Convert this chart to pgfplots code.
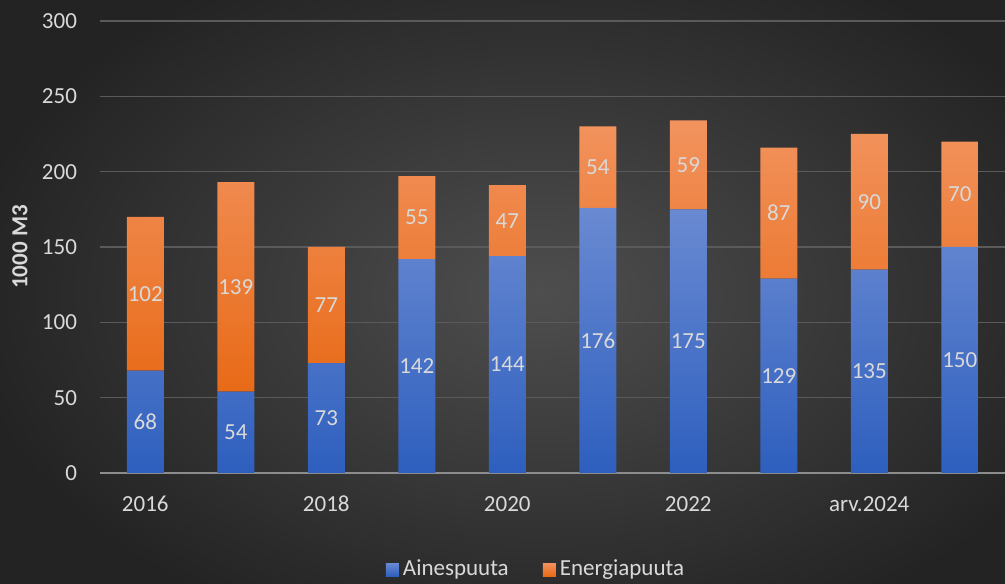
\documentclass[border=0pt]{standalone}
\usepackage{fontspec}
\setmainfont{Carlito}
\usepackage{pgfplots}
\usepackage{pgfplotstable}
\pgfplotsset{compat=1.18}
\definecolor{bgin}{HTML}{4E4E4E}
\definecolor{bgout}{HTML}{232323}
\definecolor{txt}{HTML}{D9D9D9}
\definecolor{btop}{HTML}{6A8AD2}
\definecolor{bbot}{HTML}{2E5FBE}
\definecolor{otop}{HTML}{F2935E}
\definecolor{obot}{HTML}{E86A17}
\definecolor{gridc}{HTML}{5A5A5A}
\definecolor{axl}{HTML}{8C8C8C}

\pgfplotstableread{
x a e
0 68 102
1 54 139
2 73 77
3 142 55
4 144 47
5 176 54
6 175 59
7 129 87
8 135 90
9 150 70
}\data

\begin{document}
\begin{tikzpicture}
\path[use as bounding box] (0,0) rectangle (502.5pt,291.5pt);
\shade[inner color=bgin, outer color=bgout] (-20pt,-40pt) rectangle (560pt,330pt);
\begin{axis}[
  at={(50pt,55pt)}, anchor=south west,
  scale only axis, width=452.5pt, height=226pt,
  ymin=0, ymax=300, xmin=-0.5, xmax=9.5,
  ybar stacked, bar width=18.5pt,
  ytick={0,50,...,300},
  xtick={0,2,4,6,8}, xticklabels={2016,2018,2020,2022,arv.2024},
  axis lines*=left,
  x axis line style={draw=axl, line width=1pt},
  y axis line style={draw=none},
  major tick length=0pt,
  ymajorgrids, major grid style={draw=gridc, line width=0.75pt},
  /pgf/number format/assume math mode=true,
  tick label style={text=txt, font=\fontsize{11.5}{13}\selectfont},
  yticklabel style={anchor=east, xshift=-8pt},
  xticklabel style={anchor=base, yshift=-19.5pt},
  ylabel={1000 M3},
  ylabel style={at={(axis description cs:-0.0884,0.5)}, anchor=center, text=txt, font=\fontsize{11.5}{13}\selectfont\bfseries},
  legend style={at={(axis description cs:0.4829,-0.2135)}, anchor=center, draw=none, fill=none, legend columns=2, text=txt, font=\fontsize{11.5}{13}\selectfont, /tikz/every even column/.append style={column sep=15pt}},
  legend cell align=left,
]
\addplot[draw=none, top color=btop, bottom color=bbot,
  point meta=explicit, nodes near coords,
  nodes near coords style={anchor=center, text=txt, font=\fontsize{11.5}{13}\selectfont},
  legend image code/.code={\fill[btop!50!bbot] (0pt,-3.25pt) rectangle (6.5pt,3.25pt);}
] table[x=x, y=a, meta=a] {\data};
\addlegendentry{Ainespuuta}
\addplot[draw=none, top color=otop, bottom color=obot,
  point meta=explicit, nodes near coords,
  nodes near coords style={anchor=center, text=txt, font=\fontsize{11.5}{13}\selectfont},
  legend image code/.code={\fill[otop!40!obot] (0pt,-3.25pt) rectangle (6.5pt,3.25pt);}
] table[x=x, y=e, meta=e] {\data};
\addlegendentry{Energiapuuta}
\end{axis}
\end{tikzpicture}
\end{document}
